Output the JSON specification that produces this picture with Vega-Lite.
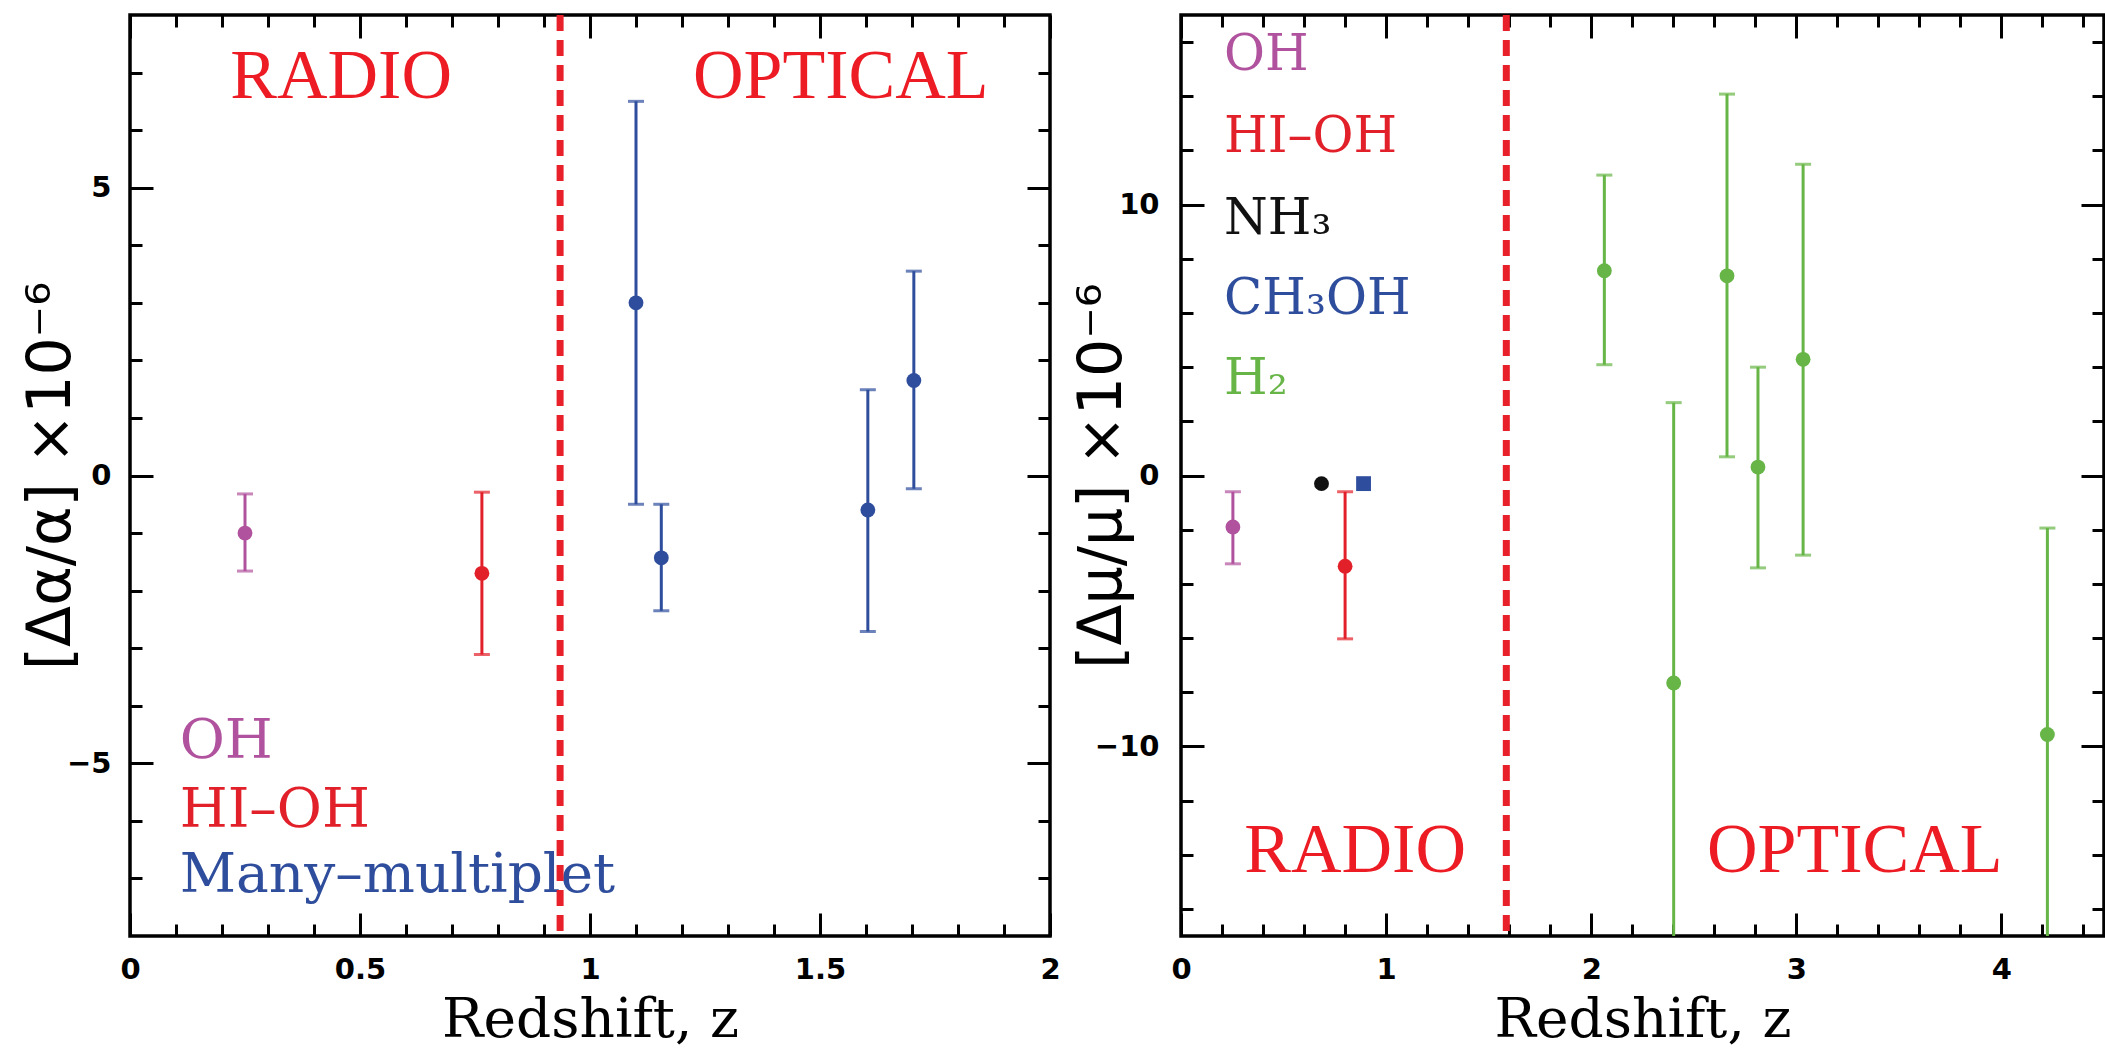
{
  "$schema": "https://vega.github.io/schema/vega-lite/v6.json",
  "background": "white",
  "padding": {"left": 19, "top": 9, "right": 0, "bottom": 0},
  "spacing": 8,
  "config": {
    "view": {"stroke": "black", "strokeWidth": 3.5},
    "axis": {"domain": false, "grid": false, "tickColor": "black", "tickWidth": 3, "labelFont": "DejaVu Sans", "labelFontWeight": "bold", "labelFontSize": 29, "labelColor": "black", "labelFlush": false, "labelOverlap": false, "titleColor": "black", "titleFontWeight": "normal"}
  },
  "datasets": {
    "left": [
      {"s": "OH", "z": 0.25, "v": -1.0, "lo": -1.66, "hi": -0.32},
      {"s": "HI-OH", "z": 0.765, "v": -1.7, "lo": -3.11, "hi": -0.29},
      {"s": "MM", "z": 1.1, "v": 3.0, "lo": -0.5, "hi": 6.5},
      {"s": "MM", "z": 1.155, "v": -1.43, "lo": -2.35, "hi": -0.5},
      {"s": "MM", "z": 1.604, "v": -0.6, "lo": -2.71, "hi": 1.49},
      {"s": "MM", "z": 1.704, "v": 1.65, "lo": -0.23, "hi": 3.55}
    ],
    "leftText": [
      {"t": "RADIO", "z": 0.459, "v": 6.55},
      {"t": "OPTICAL", "z": 1.545, "v": 6.55}
    ],
    "leftLegend": [
      {"t": "OH", "s": "OH", "z": 0.108, "v": -4.9},
      {"t": "HI–OH", "s": "HI-OH", "z": 0.108, "v": -6.11},
      {"t": "Many–multiplet", "s": "MM", "z": 0.108, "v": -7.24}
    ],
    "leftDiv": [{"z": 0.935}],
    "right": [
      {"s": "OH", "z": 0.253, "v": -1.9, "lo": -3.26, "hi": -0.6},
      {"s": "NH3", "z": 0.685, "v": -0.3, "lo": null, "hi": null},
      {"s": "CH3OH", "z": 0.89, "v": -0.3, "lo": null, "hi": null},
      {"s": "HI-OH", "z": 0.8, "v": -3.35, "lo": -6.03, "hi": -0.6},
      {"s": "H2", "z": 2.064, "v": 7.56, "lo": 4.09, "hi": 11.09},
      {"s": "H2", "z": 2.402, "v": -7.66, "lo": -19.5, "hi": 2.69},
      {"s": "H2", "z": 2.662, "v": 7.37, "lo": 0.69, "hi": 14.08},
      {"s": "H2", "z": 2.813, "v": 0.31, "lo": -3.41, "hi": 4.0},
      {"s": "H2", "z": 3.033, "v": 4.29, "lo": -2.94, "hi": 11.49},
      {"s": "H2", "z": 4.224, "v": -9.56, "lo": -20.5, "hi": -1.94}
    ],
    "rightText": [
      {"t": "RADIO", "z": 0.849, "v": -14.63},
      {"t": "OPTICAL", "z": 3.285, "v": -14.63}
    ],
    "rightLegend": [
      {"t": "OH", "s": "OH", "z": 0.21, "v": 14.96},
      {"t": "HI–OH", "s": "HI-OH", "z": 0.21, "v": 11.95},
      {"t": "NH₃", "s": "NH3", "z": 0.21, "v": 8.93},
      {"t": "CH₃OH", "s": "CH3OH", "z": 0.21, "v": 5.97},
      {"t": "H₂", "s": "H2", "z": 0.21, "v": 3.01}
    ],
    "rightDiv": [{"z": 1.586}]
  },
  "hconcat": [
    {
      "width": 920,
      "height": 921,
      "resolve": {"axis": {"x": "independent", "y": "independent"}},
      "layer": [
        {
          "mark": {"type": "rule", "strokeDash": [18, 10], "strokeWidth": 3.5, "color": "black"},
          "encoding": {"y": {"datum": 0, "type": "quantitative", "scale": {"domain": [-8, 8], "nice": false, "zero": false}, "axis": null}}
        },
        {
          "data": {"name": "left"},
          "mark": {"type": "rule", "strokeWidth": 3, "clip": true},
          "encoding": {
            "x": {"field": "z", "type": "quantitative", "scale": {"domain": [0, 2], "nice": false, "zero": false},
                  "axis": {"orient": "bottom", "values": [0, 0.5, 1, 1.5, 2], "format": "~g", "tickSize": -23, "labelPadding": 42, "title": "Redshift,  z", "titleFont": "DejaVu Serif", "titleFontSize": 55, "titlePadding": 9}},
            "y": {"field": "lo", "type": "quantitative", "scale": {"domain": [-8, 8], "nice": false, "zero": false},
                  "axis": {"orient": "left", "values": [-5, 0, 5], "format": "d", "tickSize": -23, "labelPadding": 42, "minExtent": 44, "maxExtent": 44, "title": "[Δα/α]  ×10⁻⁶", "titleFont": "DejaVu Sans", "titleFontSize": 60, "titlePadding": 4}},
            "y2": {"field": "hi"},
            "color": {"field": "s", "type": "nominal", "legend": null, "scale": {"domain": ["OH", "HI-OH", "MM", "NH3", "CH3OH", "H2"], "range": ["#b0529e", "#e2202a", "#2e4d9c", "#111111", "#2e4d9c", "#66b546"]}}
          }
        },
        {
          "data": {"name": "left"},
          "mark": {"type": "tick", "orient": "horizontal", "size": 16, "thickness": 3, "clip": true},
          "encoding": {
            "x": {"field": "z", "type": "quantitative", "axis": {"orient": "bottom", "values": [0.1, 0.2, 0.3, 0.4, 0.6, 0.7, 0.8, 0.9, 1.1, 1.2, 1.3, 1.4, 1.6, 1.7, 1.8, 1.9], "tickSize": -12, "labels": false, "title": null}},
            "y": {"field": "lo", "type": "quantitative", "axis": {"orient": "left", "values": [-7, -6, -4, -3, -2, -1, 1, 2, 3, 4, 6, 7], "tickSize": -12, "labels": false, "title": null}},
            "color": {"field": "s", "type": "nominal", "legend": null}
          }
        },
        {
          "data": {"name": "left"},
          "mark": {"type": "tick", "orient": "horizontal", "size": 16, "thickness": 3, "clip": true},
          "encoding": {
            "x": {"field": "z", "type": "quantitative", "axis": {"orient": "top", "values": [0, 0.5, 1, 1.5, 2], "tickSize": -23, "labels": false, "title": null}},
            "y": {"field": "hi", "type": "quantitative", "axis": {"orient": "right", "values": [-5, 0, 5], "tickSize": -23, "labels": false, "title": null}},
            "color": {"field": "s", "type": "nominal", "legend": null}
          }
        },
        {
          "data": {"name": "left"},
          "mark": {"type": "point", "filled": true, "opacity": 1, "size": 220},
          "encoding": {
            "x": {"field": "z", "type": "quantitative", "axis": {"orient": "top", "values": [0.1, 0.2, 0.3, 0.4, 0.6, 0.7, 0.8, 0.9, 1.1, 1.2, 1.3, 1.4, 1.6, 1.7, 1.8, 1.9], "tickSize": -12, "labels": false, "title": null}},
            "y": {"field": "v", "type": "quantitative", "axis": {"orient": "right", "values": [-7, -6, -4, -3, -2, -1, 1, 2, 3, 4, 6, 7], "tickSize": -12, "labels": false, "title": null}},
            "color": {"field": "s", "type": "nominal", "legend": null}
          }
        },
        {
          "data": {"name": "leftText"},
          "mark": {"type": "text", "font": "Liberation Serif", "fontSize": 70, "color": "#ed1c24", "align": "center", "baseline": "alphabetic"},
          "encoding": {
            "x": {"field": "z", "type": "quantitative", "axis": null},
            "y": {"field": "v", "type": "quantitative", "axis": null},
            "text": {"field": "t"}
          }
        },
        {
          "data": {"name": "leftLegend"},
          "mark": {"type": "text", "font": "DejaVu Serif", "fontSize": 55, "align": "left", "baseline": "alphabetic"},
          "encoding": {
            "x": {"field": "z", "type": "quantitative", "axis": null},
            "y": {"field": "v", "type": "quantitative", "axis": null},
            "text": {"field": "t"},
            "color": {"field": "s", "type": "nominal", "legend": null}
          }
        },
        {
          "data": {"name": "leftDiv"},
          "mark": {"type": "rule", "strokeDash": [16, 9], "strokeWidth": 7, "color": "#e8202a"},
          "encoding": {"x": {"field": "z", "type": "quantitative", "axis": null}}
        }
      ]
    },
    {
      "width": 923,
      "height": 921,
      "resolve": {"axis": {"x": "independent", "y": "independent"}},
      "layer": [
        {
          "mark": {"type": "rule", "strokeDash": [18, 10], "strokeWidth": 3.5, "color": "black"},
          "encoding": {"y": {"datum": 0, "type": "quantitative", "scale": {"domain": [-17, 17], "nice": false, "zero": false}, "axis": null}}
        },
        {
          "data": {"name": "right"},
          "transform": [{"filter": "datum.lo != null"}],
          "mark": {"type": "rule", "strokeWidth": 3, "clip": true},
          "encoding": {
            "x": {"field": "z", "type": "quantitative", "scale": {"domain": [0, 4.5], "nice": false, "zero": false},
                  "axis": {"orient": "bottom", "values": [0, 1, 2, 3, 4], "format": "d", "tickSize": -23, "labelPadding": 42, "title": "Redshift,  z", "titleFont": "DejaVu Serif", "titleFontSize": 55, "titlePadding": 9}},
            "y": {"field": "lo", "type": "quantitative", "scale": {"domain": [-17, 17], "nice": false, "zero": false},
                  "axis": {"orient": "left", "values": [-10, 0, 10], "format": "d", "tickSize": -23, "labelPadding": 45, "minExtent": 44, "maxExtent": 44, "title": "[Δμ/μ]  ×10⁻⁶", "titleFont": "DejaVu Sans", "titleFontSize": 60, "titlePadding": 4}},
            "y2": {"field": "hi"},
            "color": {"field": "s", "type": "nominal", "legend": null, "scale": {"domain": ["OH", "HI-OH", "MM", "NH3", "CH3OH", "H2"], "range": ["#b0529e", "#e2202a", "#2e4d9c", "#111111", "#2e4d9c", "#66b546"]}}
          }
        },
        {
          "data": {"name": "right"},
          "transform": [{"filter": "datum.lo != null"}],
          "mark": {"type": "tick", "orient": "horizontal", "size": 16, "thickness": 3, "clip": true},
          "encoding": {
            "x": {"field": "z", "type": "quantitative", "axis": {"orient": "bottom", "values": [0.2, 0.4, 0.6, 0.8, 1.2, 1.4, 1.6, 1.8, 2.2, 2.4, 2.6, 2.8, 3.2, 3.4, 3.6, 3.8, 4.2, 4.4], "tickSize": -12, "labels": false, "title": null}},
            "y": {"field": "lo", "type": "quantitative", "axis": {"orient": "left", "values": [-16, -14, -12, -8, -6, -4, -2, 2, 4, 6, 8, 12, 14, 16], "tickSize": -12, "labels": false, "title": null}},
            "color": {"field": "s", "type": "nominal", "legend": null}
          }
        },
        {
          "data": {"name": "right"},
          "transform": [{"filter": "datum.hi != null"}],
          "mark": {"type": "tick", "orient": "horizontal", "size": 16, "thickness": 3, "clip": true},
          "encoding": {
            "x": {"field": "z", "type": "quantitative", "axis": {"orient": "top", "values": [0, 1, 2, 3, 4], "tickSize": -23, "labels": false, "title": null}},
            "y": {"field": "hi", "type": "quantitative", "axis": {"orient": "right", "values": [-10, 0, 10], "tickSize": -23, "labels": false, "title": null}},
            "color": {"field": "s", "type": "nominal", "legend": null}
          }
        },
        {
          "data": {"name": "right"},
          "mark": {"type": "point", "filled": true, "opacity": 1, "size": 220},
          "encoding": {
            "x": {"field": "z", "type": "quantitative", "axis": {"orient": "top", "values": [0.2, 0.4, 0.6, 0.8, 1.2, 1.4, 1.6, 1.8, 2.2, 2.4, 2.6, 2.8, 3.2, 3.4, 3.6, 3.8, 4.2, 4.4], "tickSize": -12, "labels": false, "title": null}},
            "y": {"field": "v", "type": "quantitative", "axis": {"orient": "right", "values": [-16, -14, -12, -8, -6, -4, -2, 2, 4, 6, 8, 12, 14, 16], "tickSize": -12, "labels": false, "title": null}},
            "color": {"field": "s", "type": "nominal", "legend": null},
            "shape": {"field": "s", "type": "nominal", "legend": null, "scale": {"domain": ["OH", "HI-OH", "MM", "NH3", "CH3OH", "H2"], "range": ["circle", "circle", "circle", "circle", "square", "circle"]}}
          }
        },
        {
          "data": {"name": "rightText"},
          "mark": {"type": "text", "font": "Liberation Serif", "fontSize": 70, "color": "#ed1c24", "align": "center", "baseline": "alphabetic"},
          "encoding": {
            "x": {"field": "z", "type": "quantitative", "axis": null},
            "y": {"field": "v", "type": "quantitative", "axis": null},
            "text": {"field": "t"}
          }
        },
        {
          "data": {"name": "rightLegend"},
          "mark": {"type": "text", "font": "DejaVu Serif", "fontSize": 50, "align": "left", "baseline": "alphabetic"},
          "encoding": {
            "x": {"field": "z", "type": "quantitative", "axis": null},
            "y": {"field": "v", "type": "quantitative", "axis": null},
            "text": {"field": "t"},
            "color": {"field": "s", "type": "nominal", "legend": null}
          }
        },
        {
          "data": {"name": "rightDiv"},
          "mark": {"type": "rule", "strokeDash": [16, 9], "strokeWidth": 7, "color": "#e8202a"},
          "encoding": {"x": {"field": "z", "type": "quantitative", "axis": null}}
        }
      ]
    }
  ]
}
